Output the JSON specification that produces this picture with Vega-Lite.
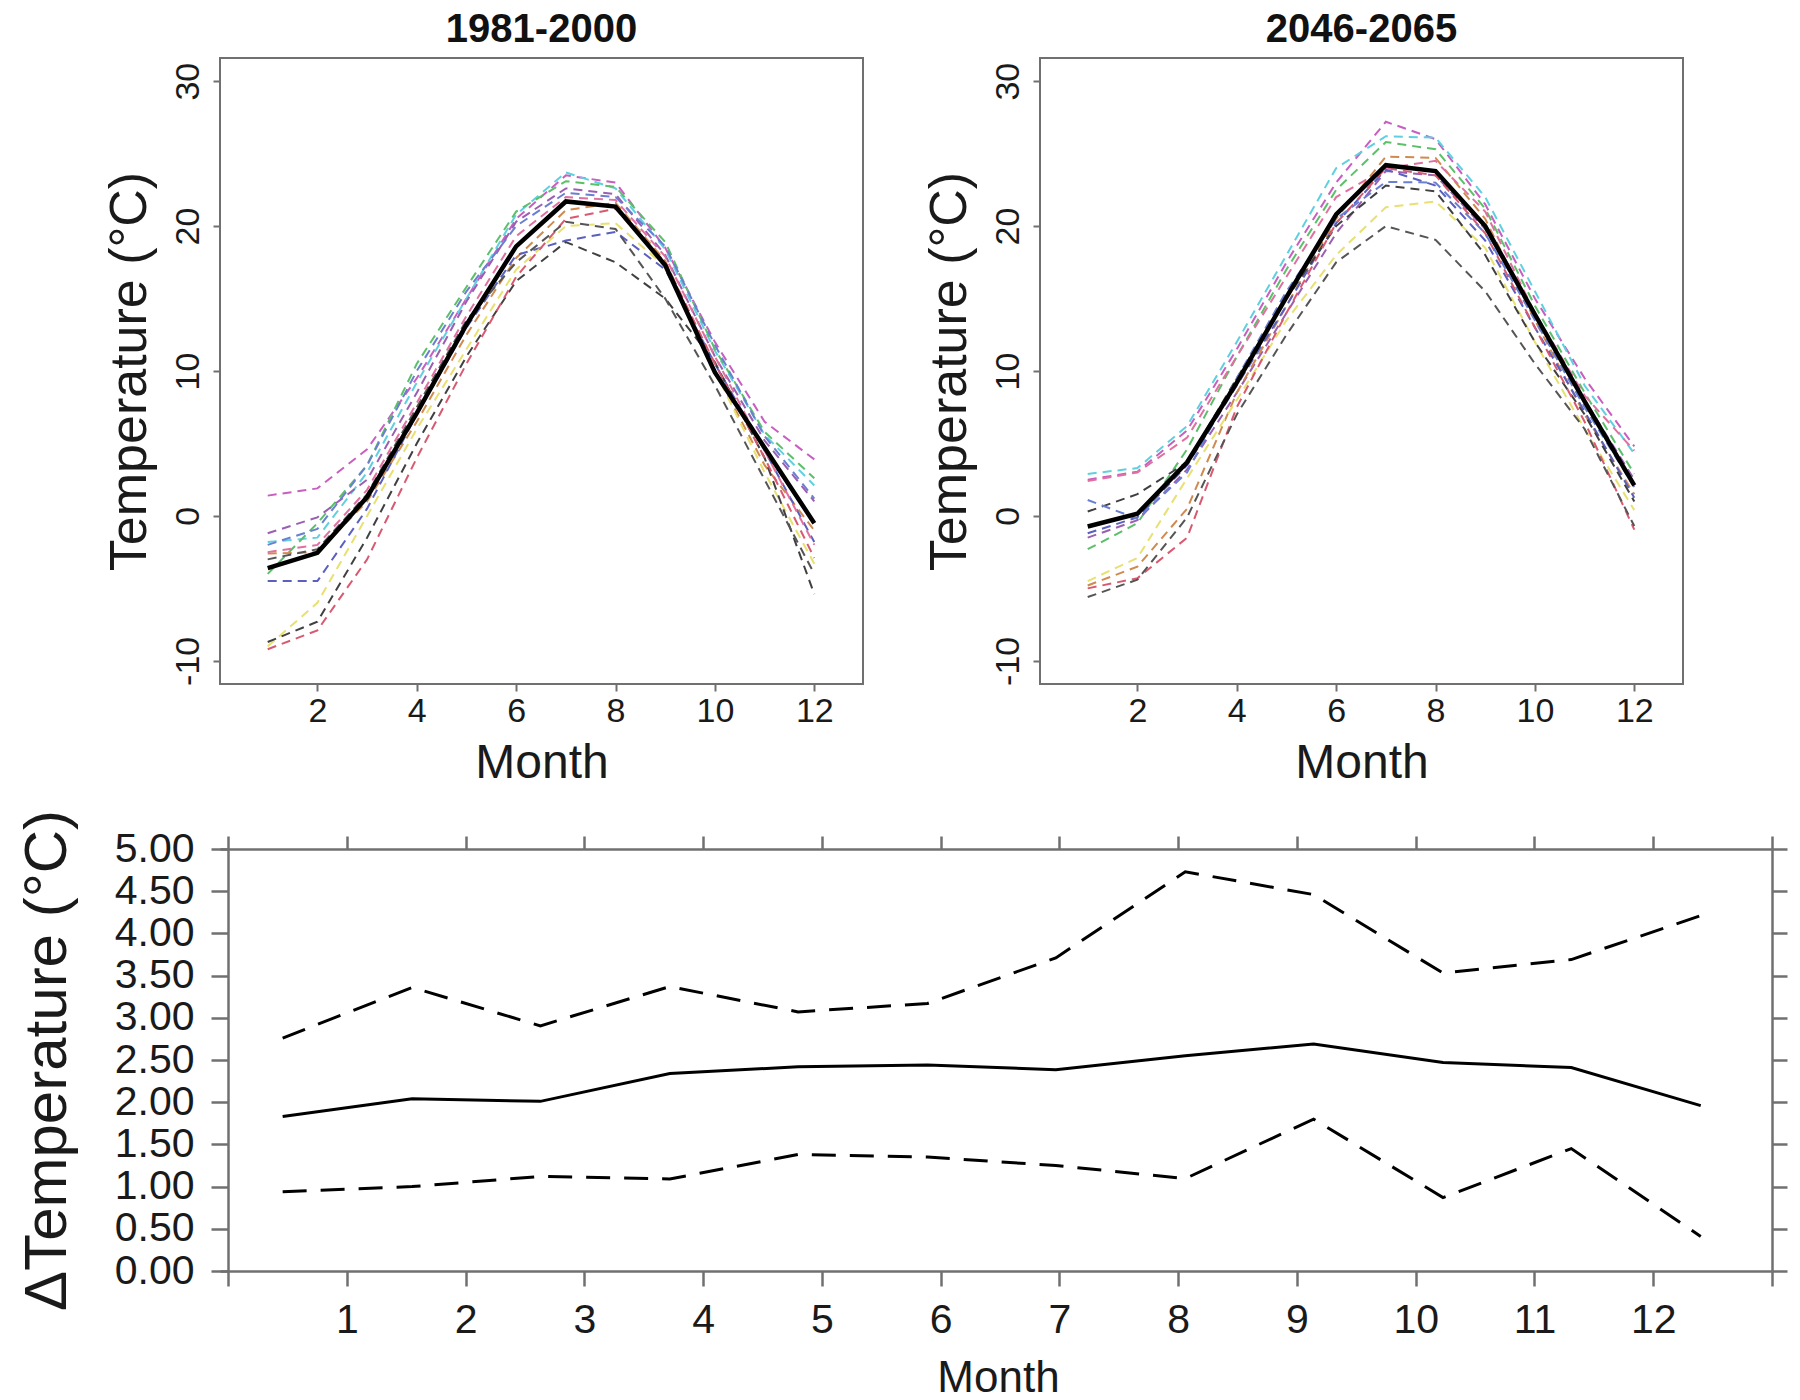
{
"$schema": "https://vega.github.io/schema/vega-lite/v6.json",
"background": "white",
"padding": {"left": 17, "top": 9, "right": 10, "bottom": 10},
"config": {"font": "Liberation Sans", "axis": {"grid": false, "labelFlush": false, "labelOverlap": false, "labelColor": "#1a1a1a", "titleColor": "#1a1a1a", "titleFontWeight": "normal", "tickColor": "#707070", "domainColor": "#707070"}},
"datasets": {
"hist": [
{"m":"m1","x":1,"t":1.4},{"m":"m1","x":2,"t":1.9},{"m":"m1","x":3,"t":4.6},{"m":"m1","x":4,"t":9.5},{"m":"m1","x":5,"t":15.0},{"m":"m1","x":6,"t":20.5},{"m":"m1","x":7,"t":23.5},{"m":"m1","x":8,"t":23.0},{"m":"m1","x":9,"t":18.5},{"m":"m1","x":10,"t":12.0},{"m":"m1","x":11,"t":6.5},{"m":"m1","x":12,"t":3.9},
{"m":"m2","x":1,"t":-1.8},{"m":"m2","x":2,"t":-1.5},{"m":"m2","x":3,"t":3.0},{"m":"m2","x":4,"t":9.2},{"m":"m2","x":5,"t":15.0},{"m":"m2","x":6,"t":20.8},{"m":"m2","x":7,"t":23.7},{"m":"m2","x":8,"t":22.6},{"m":"m2","x":9,"t":18.4},{"m":"m2","x":10,"t":11.4},{"m":"m2","x":11,"t":5.6},{"m":"m2","x":12,"t":2.1},
{"m":"m3","x":1,"t":-4.0},{"m":"m3","x":2,"t":-0.5},{"m":"m3","x":3,"t":3.5},{"m":"m3","x":4,"t":10.5},{"m":"m3","x":5,"t":15.8},{"m":"m3","x":6,"t":21.0},{"m":"m3","x":7,"t":23.1},{"m":"m3","x":8,"t":22.7},{"m":"m3","x":9,"t":18.9},{"m":"m3","x":10,"t":11.5},{"m":"m3","x":11,"t":5.8},{"m":"m3","x":12,"t":2.6},
{"m":"m4","x":1,"t":-1.2},{"m":"m4","x":2,"t":-0.1},{"m":"m4","x":3,"t":2.5},{"m":"m4","x":4,"t":8.5},{"m":"m4","x":5,"t":14.8},{"m":"m4","x":6,"t":20.3},{"m":"m4","x":7,"t":22.6},{"m":"m4","x":8,"t":22.2},{"m":"m4","x":9,"t":18.0},{"m":"m4","x":10,"t":11.0},{"m":"m4","x":11,"t":5.2},{"m":"m4","x":12,"t":1.0},
{"m":"m5","x":1,"t":-2.6},{"m":"m5","x":2,"t":-2.5},{"m":"m5","x":3,"t":1.0},{"m":"m5","x":4,"t":6.5},{"m":"m5","x":5,"t":12.5},{"m":"m5","x":6,"t":17.8},{"m":"m5","x":7,"t":21.1},{"m":"m5","x":8,"t":21.6},{"m":"m5","x":9,"t":17.6},{"m":"m5","x":10,"t":10.0},{"m":"m5","x":11,"t":3.5},{"m":"m5","x":12,"t":-1.0},
{"m":"m6","x":1,"t":-4.5},{"m":"m6","x":2,"t":-4.5},{"m":"m6","x":3,"t":0.5},{"m":"m6","x":4,"t":7.0},{"m":"m6","x":5,"t":13.0},{"m":"m6","x":6,"t":18.0},{"m":"m6","x":7,"t":19.0},{"m":"m6","x":8,"t":19.6},{"m":"m6","x":9,"t":17.0},{"m":"m6","x":10,"t":10.5},{"m":"m6","x":11,"t":4.5},{"m":"m6","x":12,"t":-1.8},
{"m":"m7","x":1,"t":-9.0},{"m":"m7","x":2,"t":-6.0},{"m":"m7","x":3,"t":0.0},{"m":"m7","x":4,"t":6.0},{"m":"m7","x":5,"t":11.5},{"m":"m7","x":6,"t":17.0},{"m":"m7","x":7,"t":20.0},{"m":"m7","x":8,"t":20.2},{"m":"m7","x":9,"t":17.2},{"m":"m7","x":10,"t":10.0},{"m":"m7","x":11,"t":3.0},{"m":"m7","x":12,"t":-3.3},
{"m":"m8","x":1,"t":-8.7},{"m":"m8","x":2,"t":-7.3},{"m":"m8","x":3,"t":-1.5},{"m":"m8","x":4,"t":5.0},{"m":"m8","x":5,"t":11.0},{"m":"m8","x":6,"t":16.2},{"m":"m8","x":7,"t":18.9},{"m":"m8","x":8,"t":17.5},{"m":"m8","x":9,"t":15.0},{"m":"m8","x":10,"t":10.6},{"m":"m8","x":11,"t":4.0},{"m":"m8","x":12,"t":-5.4},
{"m":"m9","x":1,"t":-9.2},{"m":"m9","x":2,"t":-7.9},{"m":"m9","x":3,"t":-3.0},{"m":"m9","x":4,"t":4.0},{"m":"m9","x":5,"t":10.5},{"m":"m9","x":6,"t":16.5},{"m":"m9","x":7,"t":20.5},{"m":"m9","x":8,"t":21.2},{"m":"m9","x":9,"t":17.5},{"m":"m9","x":10,"t":10.5},{"m":"m9","x":11,"t":4.0},{"m":"m9","x":12,"t":-2.9},
{"m":"m10","x":1,"t":-3.0},{"m":"m10","x":2,"t":-2.3},{"m":"m10","x":3,"t":1.5},{"m":"m10","x":4,"t":7.5},{"m":"m10","x":5,"t":13.5},{"m":"m10","x":6,"t":17.5},{"m":"m10","x":7,"t":20.3},{"m":"m10","x":8,"t":19.8},{"m":"m10","x":9,"t":15.0},{"m":"m10","x":10,"t":9.0},{"m":"m10","x":11,"t":2.5},{"m":"m10","x":12,"t":-4.0},
{"m":"m11","x":1,"t":-2.0},{"m":"m11","x":2,"t":-0.9},{"m":"m11","x":3,"t":3.5},{"m":"m11","x":4,"t":10.0},{"m":"m11","x":5,"t":15.5},{"m":"m11","x":6,"t":20.0},{"m":"m11","x":7,"t":22.3},{"m":"m11","x":8,"t":22.0},{"m":"m11","x":9,"t":18.6},{"m":"m11","x":10,"t":11.8},{"m":"m11","x":11,"t":5.5},{"m":"m11","x":12,"t":1.2},
{"m":"m12","x":1,"t":-2.5},{"m":"m12","x":2,"t":-2.0},{"m":"m12","x":3,"t":1.8},{"m":"m12","x":4,"t":7.8},{"m":"m12","x":5,"t":13.8},{"m":"m12","x":6,"t":19.3},{"m":"m12","x":7,"t":22.0},{"m":"m12","x":8,"t":21.8},{"m":"m12","x":9,"t":17.9},{"m":"m12","x":10,"t":11.0},{"m":"m12","x":11,"t":4.5},{"m":"m12","x":12,"t":-2.0},
{"m":"mean","x":1,"t":-3.6},{"m":"mean","x":2,"t":-2.55},{"m":"mean","x":3,"t":1.3},{"m":"mean","x":4,"t":7.1},{"m":"mean","x":5,"t":13.2},{"m":"mean","x":6,"t":18.6},{"m":"mean","x":7,"t":21.7},{"m":"mean","x":8,"t":21.35},{"m":"mean","x":9,"t":17.3},{"m":"mean","x":10,"t":9.9},{"m":"mean","x":11,"t":4.7},{"m":"mean","x":12,"t":-0.5}
],
"fut": [
{"m":"m1","x":1,"t":2.5},{"m":"m1","x":2,"t":3.05},{"m":"m1","x":3,"t":5.9},{"m":"m1","x":4,"t":11.5},{"m":"m1","x":5,"t":17.5},{"m":"m1","x":6,"t":23.0},{"m":"m1","x":7,"t":27.2},{"m":"m1","x":8,"t":26.0},{"m":"m1","x":9,"t":21.5},{"m":"m1","x":10,"t":15.0},{"m":"m1","x":11,"t":9.5},{"m":"m1","x":12,"t":4.8},
{"m":"m2","x":1,"t":2.9},{"m":"m2","x":2,"t":3.3},{"m":"m2","x":3,"t":6.2},{"m":"m2","x":4,"t":12.0},{"m":"m2","x":5,"t":18.0},{"m":"m2","x":6,"t":24.0},{"m":"m2","x":7,"t":26.2},{"m":"m2","x":8,"t":26.1},{"m":"m2","x":9,"t":22.0},{"m":"m2","x":10,"t":15.5},{"m":"m2","x":11,"t":9.0},{"m":"m2","x":12,"t":4.3},
{"m":"m3","x":1,"t":-2.3},{"m":"m3","x":2,"t":-0.5},{"m":"m3","x":3,"t":4.6},{"m":"m3","x":4,"t":11.0},{"m":"m3","x":5,"t":17.0},{"m":"m3","x":6,"t":22.5},{"m":"m3","x":7,"t":25.8},{"m":"m3","x":8,"t":25.3},{"m":"m3","x":9,"t":21.2},{"m":"m3","x":10,"t":14.5},{"m":"m3","x":11,"t":8.5},{"m":"m3","x":12,"t":2.9},
{"m":"m4","x":1,"t":-1.5},{"m":"m4","x":2,"t":-0.3},{"m":"m4","x":3,"t":3.2},{"m":"m4","x":4,"t":8.5},{"m":"m4","x":5,"t":14.0},{"m":"m4","x":6,"t":19.5},{"m":"m4","x":7,"t":23.8},{"m":"m4","x":8,"t":23.5},{"m":"m4","x":9,"t":19.8},{"m":"m4","x":10,"t":13.8},{"m":"m4","x":11,"t":8.0},{"m":"m4","x":12,"t":2.5},
{"m":"m5","x":1,"t":-4.8},{"m":"m5","x":2,"t":-3.5},{"m":"m5","x":3,"t":0.5},{"m":"m5","x":4,"t":8.5},{"m":"m5","x":5,"t":14.5},{"m":"m5","x":6,"t":20.5},{"m":"m5","x":7,"t":24.8},{"m":"m5","x":8,"t":24.7},{"m":"m5","x":9,"t":20.5},{"m":"m5","x":10,"t":13.5},{"m":"m5","x":11,"t":7.0},{"m":"m5","x":12,"t":1.5},
{"m":"m6","x":1,"t":-1.2},{"m":"m6","x":2,"t":-0.1},{"m":"m6","x":3,"t":3.5},{"m":"m6","x":4,"t":9.0},{"m":"m6","x":5,"t":14.5},{"m":"m6","x":6,"t":20.2},{"m":"m6","x":7,"t":23.9},{"m":"m6","x":8,"t":22.8},{"m":"m6","x":9,"t":19.0},{"m":"m6","x":10,"t":13.0},{"m":"m6","x":11,"t":7.2},{"m":"m6","x":12,"t":1.25},
{"m":"m7","x":1,"t":-4.5},{"m":"m7","x":2,"t":-2.9},{"m":"m7","x":3,"t":2.6},{"m":"m7","x":4,"t":8.0},{"m":"m7","x":5,"t":13.5},{"m":"m7","x":6,"t":18.0},{"m":"m7","x":7,"t":21.3},{"m":"m7","x":8,"t":21.7},{"m":"m7","x":9,"t":18.5},{"m":"m7","x":10,"t":12.0},{"m":"m7","x":11,"t":6.0},{"m":"m7","x":12,"t":0.4},
{"m":"m8","x":1,"t":0.3},{"m":"m8","x":2,"t":1.5},{"m":"m8","x":3,"t":3.7},{"m":"m8","x":4,"t":9.5},{"m":"m8","x":5,"t":15.0},{"m":"m8","x":6,"t":20.0},{"m":"m8","x":7,"t":22.8},{"m":"m8","x":8,"t":22.4},{"m":"m8","x":9,"t":18.0},{"m":"m8","x":10,"t":12.0},{"m":"m8","x":11,"t":7.0},{"m":"m8","x":12,"t":1.0},
{"m":"m9","x":1,"t":-5.0},{"m":"m9","x":2,"t":-4.3},{"m":"m9","x":3,"t":-1.5},{"m":"m9","x":4,"t":7.5},{"m":"m9","x":5,"t":14.0},{"m":"m9","x":6,"t":20.2},{"m":"m9","x":7,"t":24.0},{"m":"m9","x":8,"t":23.5},{"m":"m9","x":9,"t":19.5},{"m":"m9","x":10,"t":13.0},{"m":"m9","x":11,"t":6.5},{"m":"m9","x":12,"t":-0.95},
{"m":"m10","x":1,"t":-5.6},{"m":"m10","x":2,"t":-4.4},{"m":"m10","x":3,"t":-0.1},{"m":"m10","x":4,"t":7.0},{"m":"m10","x":5,"t":12.5},{"m":"m10","x":6,"t":17.5},{"m":"m10","x":7,"t":20.0},{"m":"m10","x":8,"t":19.05},{"m":"m10","x":9,"t":15.5},{"m":"m10","x":10,"t":10.5},{"m":"m10","x":11,"t":6.0},{"m":"m10","x":12,"t":-0.7},
{"m":"m11","x":1,"t":1.1},{"m":"m11","x":2,"t":-0.2},{"m":"m11","x":3,"t":3.0},{"m":"m11","x":4,"t":9.5},{"m":"m11","x":5,"t":15.5},{"m":"m11","x":6,"t":20.5},{"m":"m11","x":7,"t":23.05},{"m":"m11","x":8,"t":23.0},{"m":"m11","x":9,"t":19.5},{"m":"m11","x":10,"t":13.5},{"m":"m11","x":11,"t":7.5},{"m":"m11","x":12,"t":2.0},
{"m":"m12","x":1,"t":2.4},{"m":"m12","x":2,"t":3.0},{"m":"m12","x":3,"t":5.4},{"m":"m12","x":4,"t":11.0},{"m":"m12","x":5,"t":16.5},{"m":"m12","x":6,"t":22.0},{"m":"m12","x":7,"t":24.0},{"m":"m12","x":8,"t":24.5},{"m":"m12","x":9,"t":21.0},{"m":"m12","x":10,"t":14.0},{"m":"m12","x":11,"t":8.3},{"m":"m12","x":12,"t":4.5},
{"m":"mean","x":1,"t":-0.73},{"m":"mean","x":2,"t":0.15},{"m":"mean","x":3,"t":3.7},{"m":"mean","x":4,"t":9.2},{"m":"mean","x":5,"t":15.1},{"m":"mean","x":6,"t":20.8},{"m":"mean","x":7,"t":24.2},{"m":"mean","x":8,"t":23.8},{"m":"mean","x":9,"t":20.0},{"m":"mean","x":10,"t":13.9},{"m":"mean","x":11,"t":7.9},{"m":"mean","x":12,"t":2.1}
],
"delta": [
{"month":1,"pos":0.46,"s":"upper","v":2.76},{"month":2,"pos":1.55,"s":"upper","v":3.36},{"month":3,"pos":2.63,"s":"upper","v":2.905},{"month":4,"pos":3.72,"s":"upper","v":3.37},{"month":5,"pos":4.8,"s":"upper","v":3.07},{"month":6,"pos":5.89,"s":"upper","v":3.17},{"month":7,"pos":6.97,"s":"upper","v":3.71},{"month":8,"pos":8.06,"s":"upper","v":4.73},{"month":9,"pos":9.14,"s":"upper","v":4.46},{"month":10,"pos":10.23,"s":"upper","v":3.53},{"month":11,"pos":11.31,"s":"upper","v":3.69},{"month":12,"pos":12.4,"s":"upper","v":4.21},
{"month":1,"pos":0.46,"s":"mean","v":1.83},{"month":2,"pos":1.55,"s":"mean","v":2.04},{"month":3,"pos":2.63,"s":"mean","v":2.01},{"month":4,"pos":3.72,"s":"mean","v":2.34},{"month":5,"pos":4.8,"s":"mean","v":2.42},{"month":6,"pos":5.89,"s":"mean","v":2.44},{"month":7,"pos":6.97,"s":"mean","v":2.385},{"month":8,"pos":8.06,"s":"mean","v":2.55},{"month":9,"pos":9.14,"s":"mean","v":2.69},{"month":10,"pos":10.23,"s":"mean","v":2.47},{"month":11,"pos":11.31,"s":"mean","v":2.41},{"month":12,"pos":12.4,"s":"mean","v":1.96},
{"month":1,"pos":0.46,"s":"lower","v":0.94},{"month":2,"pos":1.55,"s":"lower","v":1.0},{"month":3,"pos":2.63,"s":"lower","v":1.12},{"month":4,"pos":3.72,"s":"lower","v":1.09},{"month":5,"pos":4.8,"s":"lower","v":1.38},{"month":6,"pos":5.89,"s":"lower","v":1.35},{"month":7,"pos":6.97,"s":"lower","v":1.25},{"month":8,"pos":8.06,"s":"lower","v":1.095},{"month":9,"pos":9.14,"s":"lower","v":1.8},{"month":10,"pos":10.23,"s":"lower","v":0.87},{"month":11,"pos":11.31,"s":"lower","v":1.45},{"month":12,"pos":12.4,"s":"lower","v":0.41}
]
},
"bounds": "flush",
"spacing": 791,
"vconcat": [
{
"bounds": "flush",
"spacing": 177,
"hconcat": [
{
"width": 643, "height": 626,
"title": {"text": "1981-2000", "fontSize": 40, "fontWeight": "bold", "baseline": "alphabetic", "offset": -24, "anchor": "middle", "color": "#111111"},
"view": {"stroke": "#707070", "strokeWidth": 2},
"data": {"name": "hist"},
"encoding": {
"x": {"field": "x", "type": "quantitative", "scale": {"domain": [0.04, 12.98], "nice": false, "zero": false},
"axis": {"values": [2,4,6,8,10,12], "title": "Month", "titleFontSize": 48, "titleX": 321.5, "titleY": 93, "titleBaseline": "alphabetic", "titleAlign": "center", "labelFontSize": 34, "labelBaseline": "alphabetic", "labelPadding": 30, "tickSize": 7, "tickWidth": 2, "domain": false}},
"y": {"field": "t", "type": "quantitative", "scale": {"domain": [-11.6, 31.6], "nice": false, "zero": false},
"axis": {"values": [-10,0,10,20,30], "labelExpr": "datum.value < 0 ? '-' + abs(datum.value) : datum.label", "title": "Temperature (°C)", "titleFontSize": 52, "titleAngle": 270, "titleBaseline": "alphabetic", "titleAlign": "center", "titleX": -75, "titleY": 313, "labelAngle": 270, "labelAlign": "center", "labelBaseline": "alphabetic", "labelPadding": 15, "labelFontSize": 34, "tickSize": 7, "tickWidth": 2, "domain": false}}
},
"layer": [
{"transform": [{"filter": "datum.m != 'mean'"}], "mark": {"type": "line", "strokeDash": [9, 6], "strokeWidth": 2},
"encoding": {"color": {"field": "m", "type": "nominal", "legend": null, "scale": {"domain": ["m1","m2","m3","m4","m5","m6","m7","m8","m9","m10","m11","m12"], "range": ["#c85fc0","#5fd0e0","#5cbf6a","#9a5fb0","#d08a50","#5a5fc0","#e8e070","#404040","#d85a70","#555555","#6a7fd0","#e070a0"]}}}},
{"transform": [{"filter": "datum.m == 'mean'"}], "mark": {"type": "line", "color": "#000000", "strokeWidth": 4.5}}
]
},
{
"width": 643, "height": 626,
"title": {"text": "2046-2065", "fontSize": 40, "fontWeight": "bold", "baseline": "alphabetic", "offset": -24, "anchor": "middle", "color": "#111111"},
"view": {"stroke": "#707070", "strokeWidth": 2},
"data": {"name": "fut"},
"encoding": {
"x": {"field": "x", "type": "quantitative", "scale": {"domain": [0.04, 12.98], "nice": false, "zero": false},
"axis": {"values": [2,4,6,8,10,12], "title": "Month", "titleFontSize": 48, "titleX": 321.5, "titleY": 93, "titleBaseline": "alphabetic", "titleAlign": "center", "labelFontSize": 34, "labelBaseline": "alphabetic", "labelPadding": 30, "tickSize": 7, "tickWidth": 2, "domain": false}},
"y": {"field": "t", "type": "quantitative", "scale": {"domain": [-11.6, 31.6], "nice": false, "zero": false},
"axis": {"values": [-10,0,10,20,30], "labelExpr": "datum.value < 0 ? '-' + abs(datum.value) : datum.label", "title": "Temperature (°C)", "titleFontSize": 52, "titleAngle": 270, "titleBaseline": "alphabetic", "titleAlign": "center", "titleX": -75, "titleY": 313, "labelAngle": 270, "labelAlign": "center", "labelBaseline": "alphabetic", "labelPadding": 15, "labelFontSize": 34, "tickSize": 7, "tickWidth": 2, "domain": false}}
},
"layer": [
{"transform": [{"filter": "datum.m != 'mean'"}], "mark": {"type": "line", "strokeDash": [9, 6], "strokeWidth": 2},
"encoding": {"color": {"field": "m", "type": "nominal", "legend": null, "scale": {"domain": ["m1","m2","m3","m4","m5","m6","m7","m8","m9","m10","m11","m12"], "range": ["#c85fc0","#5fd0e0","#5cbf6a","#9a5fb0","#d08a50","#5a5fc0","#e8e070","#404040","#d85a70","#555555","#6a7fd0","#e070a0"]}}}},
{"transform": [{"filter": "datum.m == 'mean'"}], "mark": {"type": "line", "color": "#000000", "strokeWidth": 4.5}}
]
}
]
},
{
"width": 1552, "height": 422,
"view": {"stroke": null},
"data": {"name": "delta"},
"resolve": {"axis": {"x": "independent", "y": "independent"}},
"layer": [
{"transform": [{"filter": "datum.s != 'mean'"}], "mark": {"type": "line", "color": "#000000", "strokeWidth": 3, "strokeDash": [24, 14]},
"encoding": {
"x": {"field": "pos", "type": "quantitative", "scale": {"domain": [-0.0675, 13], "nice": false, "zero": false},
"axis": {"orient": "bottom", "values": [0,1,2,3,4,5,6,7,8,9,10,11,12,13], "labelExpr": "datum.value >= 1 && datum.value <= 12 ? datum.label : ''", "title": "Month", "titleFontSize": 44, "titleX": 778, "titleY": 120.5, "titleBaseline": "alphabetic", "titleAlign": "center", "labelFontSize": 41, "labelBaseline": "alphabetic", "labelPadding": 46, "tickSize": 15, "tickWidth": 2.5, "domain": true, "domainWidth": 2.5}},
"y": {"field": "v", "type": "quantitative", "scale": {"domain": [0, 5], "nice": false, "zero": false},
"axis": {"orient": "left", "offset": -8, "values": [0,0.5,1,1.5,2,2.5,3,3.5,4,4.5,5], "format": ".2f", "title": "ΔTemperature (°C)", "titleFontSize": 60, "titleAngle": 270, "titleBaseline": "alphabetic", "titleAlign": "center", "titleX": -162.7, "titleY": 211, "labelFontSize": 41, "labelAlign": "right", "labelBaseline": "middle", "labelPadding": 17, "tickSize": 17, "tickWidth": 2.5, "domain": true, "domainWidth": 2.5}},
"detail": {"field": "s", "type": "nominal"}
}},
{"transform": [{"filter": "datum.s == 'mean'"}], "mark": {"type": "line", "color": "#000000", "strokeWidth": 3},
"encoding": {
"x": {"field": "pos", "type": "quantitative", "scale": {"domain": [-0.0675, 13], "nice": false, "zero": false},
"axis": {"orient": "top", "values": [0,1,2,3,4,5,6,7,8,9,10,11,12,13], "labels": false, "title": null, "tickSize": 13, "tickWidth": 2.5, "domain": true, "domainWidth": 2.5}},
"y": {"field": "v", "type": "quantitative", "scale": {"domain": [0, 5], "nice": false, "zero": false},
"axis": {"orient": "right", "values": [0,0.5,1,1.5,2,2.5,3,3.5,4,4.5,5], "labels": false, "title": null, "tickSize": 15, "tickWidth": 2.5, "domain": true, "domainWidth": 2.5}}
}}
]
}
]
}
